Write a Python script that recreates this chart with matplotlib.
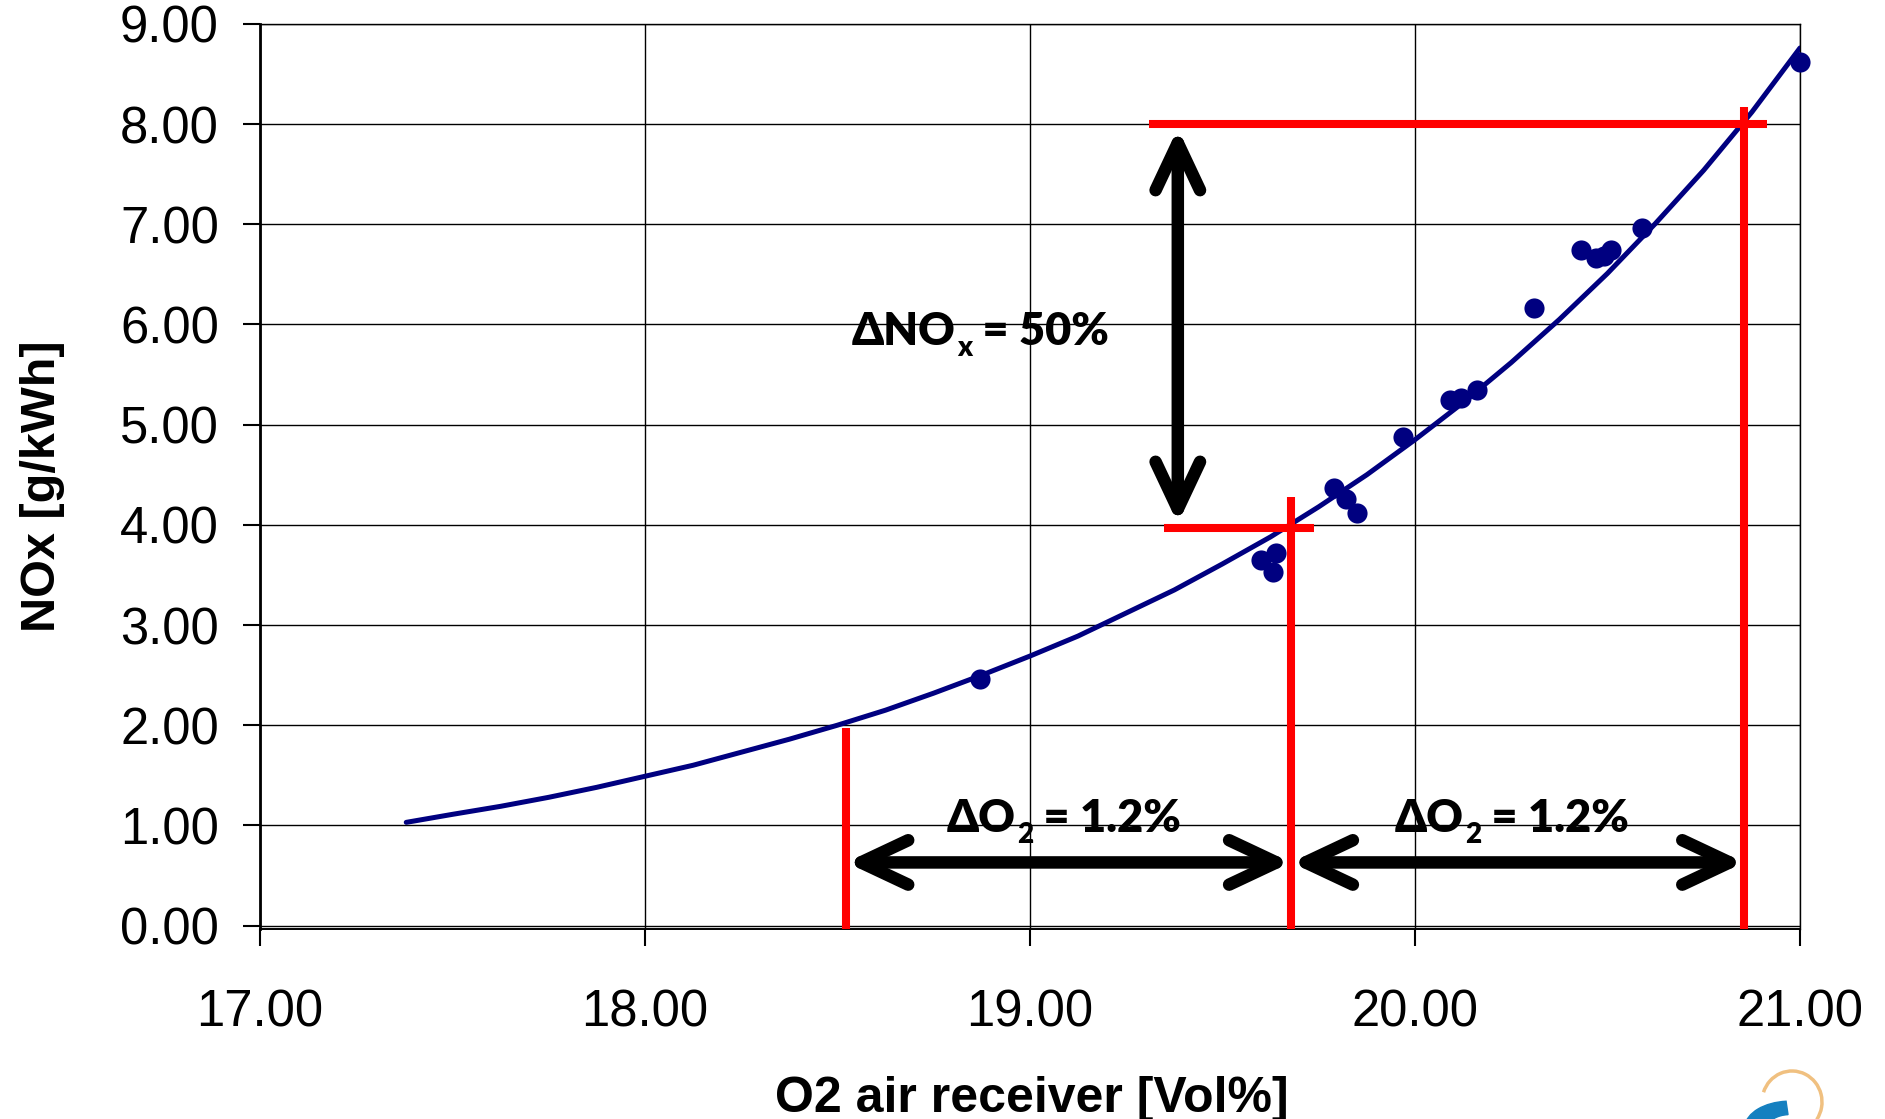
import matplotlib
matplotlib.use('Agg')
import matplotlib.pyplot as plt
from matplotlib import patches

# ---------------- data ----------------
# exponential trend line (NOx vs O2)
trend_o2 = [17.38, 17.50, 17.625, 17.75, 17.875, 18.00, 18.125, 18.25,
            18.375, 18.50, 18.625, 18.75, 18.875, 19.00, 19.125, 19.25,
            19.375, 19.50, 19.625, 19.75, 19.875, 20.00, 20.125, 20.25,
            20.375, 20.50, 20.625, 20.75, 20.875, 21.00]
trend_nox = [1.03, 1.11, 1.19, 1.28, 1.38, 1.49, 1.60, 1.73,
             1.86, 2.00, 2.15, 2.32, 2.50, 2.69, 2.89, 3.12,
             3.35, 3.61, 3.88, 4.18, 4.50, 4.85, 5.22, 5.62,
             6.05, 6.51, 7.01, 7.54, 8.12, 8.76]

# measured points
meas_o2 = [18.87, 19.60, 19.64, 19.63, 19.79, 19.82, 19.85, 19.97, 20.09,
           20.12, 20.16, 20.31, 20.43, 20.47, 20.49, 20.51, 20.59, 21.00]
meas_nox = [2.46, 3.65, 3.72, 3.53, 4.37, 4.26, 4.12, 4.88, 5.25,
            5.27, 5.35, 6.16, 6.74, 6.66, 6.68, 6.74, 6.96, 8.62]

x_ticks = [17, 18, 19, 20, 21]
y_ticks = [0, 1, 2, 3, 4, 5, 6, 7, 8, 9]

# red guide lines
guide_x = [18.523, 19.678, 20.855]
guide_top = [1.97, 4.28, 8.17]
level_y = [3.97, 8.00]
level_x0 = [19.347, 19.309]
level_x1 = [19.738, 20.915]

# black arrows
o2_arrow_y = 0.63
nox_arrow_x = 19.384

# annotation texts: (x, baseline y, head, subscript, tail)
notes = [(18.537, 5.80, '\u0394NO', 'x', ' = 50%'),
         (18.784, 0.93, '\u0394O', '2', ' = 1.2%'),
         (19.948, 0.93, '\u0394O', '2', ' = 1.2%')]

navy = '#000080'
red = '#ff0000'

plt.rcParams['font.family'] = ['Liberation Sans', 'DejaVu Sans']

fig = plt.figure(figsize=(18.85, 11.19), dpi=100)
ax = fig.add_axes([0.1379, 0.1702, 0.9549 - 0.1379, 0.9786 - 0.1702])

ax.plot(trend_o2, trend_nox, color=navy, lw=3.6, zorder=3,
        solid_capstyle='round')
ax.plot(meas_o2, meas_nox, 'o', color=navy, ms=14.5, mec='none',
        zorder=3, clip_on=False)

# red lines
for gx, gt in zip(guide_x, guide_top):
    ax.plot([gx, gx], [-0.03, gt], color=red, lw=5.8, zorder=4,
            solid_capstyle='butt', clip_on=False)
for ly, l0, l1 in zip(level_y, level_x0, level_x1):
    ax.plot([l0, l1], [ly, ly], color=red, lw=5.8, zorder=4,
            solid_capstyle='butt')

# black double arrows
arr = dict(arrowstyle='<->,head_length=1.7,head_width=0.8', lw=9,
           color='black', mutation_scale=20, capstyle='round',
           joinstyle='round')
ax.annotate('', xy=(guide_x[0], o2_arrow_y), xytext=(guide_x[1], o2_arrow_y),
            arrowprops=dict(arr, shrinkA=0, shrinkB=0), zorder=5)
ax.annotate('', xy=(guide_x[1], o2_arrow_y), xytext=(guide_x[2], o2_arrow_y),
            arrowprops=dict(arr, shrinkA=0, shrinkB=0), zorder=5)
ax.annotate('', xy=(nox_arrow_x, level_y[0]), xytext=(nox_arrow_x, level_y[1]),
            arrowprops=dict(arr, shrinkA=3, shrinkB=3), zorder=5)

# axes look (Excel style)
ax.set_xlim(17, 21)
ax.set_ylim(-0.03, 9)
ax.set_xticks(x_ticks)
ax.set_yticks(y_ticks)
ax.set_xticklabels(['%.2f' % v for v in x_ticks])
ax.set_yticklabels(['%.2f' % v for v in y_ticks])
ax.grid(True, color='black', lw=1.0)
ax.set_axisbelow(True)
ax.tick_params(direction='out', length=12.5, width=1.5, labelsize=36.5,
               colors='black')
ax.tick_params(axis='y', pad=17)
ax.tick_params(axis='x', pad=31)
for side, w in [('left', 2.0), ('bottom', 1.4), ('top', 1.0), ('right', 1.0)]:
    ax.spines[side].set_linewidth(w)
    ax.spines[side].set_color('black')

fig.text(1031.5 / 1885, 1 - 1112 / 1119, 'O2 air receiver [Vol%]',
         fontsize=36, fontweight='bold', ha='center', va='baseline')
fig.text(55 / 1885, 1 - 486 / 1119, 'NOx [g/kWh]', fontsize=35,
         fontweight='bold', ha='center', va='baseline', rotation=90,
         rotation_mode='anchor')

# annotation texts with subscripts
fig.canvas.draw()
rend = fig.canvas.get_renderer()
fam = ['Lato', 'DejaVu Sans']
for x, y, head, sub, tail in notes:
    kw = dict(fontsize=32.5, fontweight='heavy', family=fam, ha='left',
              va='baseline', zorder=6)
    t1 = ax.text(x, y, head, **kw)
    w1 = t1.get_window_extent(rend).width * 72 / fig.dpi
    kw2 = dict(kw, fontsize=20)
    t2 = ax.annotate(sub, (x, y), xytext=(w1 + 1, -8),
                     textcoords='offset points', **kw2)
    w2 = t2.get_window_extent(rend).width * 72 / fig.dpi
    ax.annotate(tail, (x, y), xytext=(w1 + w2 + 1, 0),
                textcoords='offset points', **kw)

# small logo corner in the bottom right
fig.add_artist(patches.Arc((1792 / 1885, 1 - 1102 / 1119), 60 / 1885,
                           62 / 1119, theta1=-50, theta2=150,
                           color='#f0c080', lw=2.5, transform=fig.transFigure))
fig.add_artist(patches.Wedge((1790 / 1885, 1 - 1128 / 1119), 0.024, 95, 175,
                             width=0.012, color='#1580c0',
                             transform=fig.transFigure))

fig.savefig('out.png', dpi=100)
